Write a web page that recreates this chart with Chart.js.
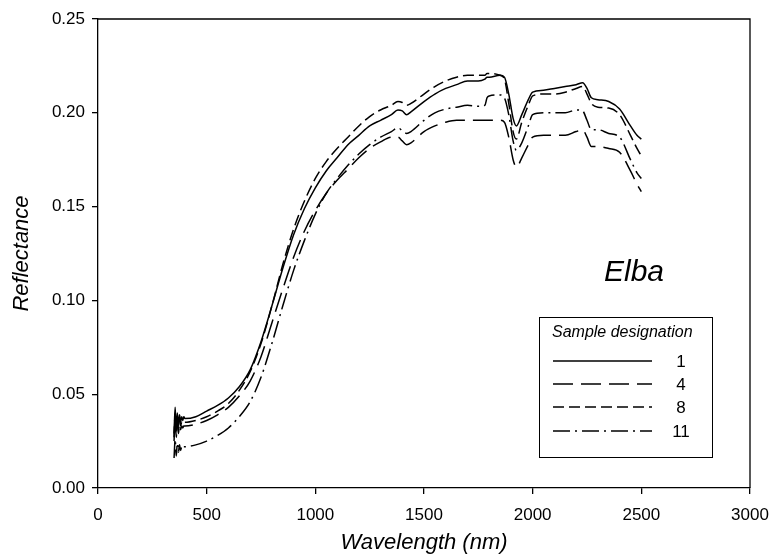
<!DOCTYPE html>
<html>
<head>
<meta charset="utf-8">
<script src="https://cdn.jsdelivr.net/npm/chart.js@4.4.1/dist/chart.umd.min.js"></script>
<style>
html,body{margin:0;padding:0;background:#fff;}
#wrap{width:781px;height:556px;}
</style>
</head>
<body>
<div id="wrap"><canvas id="c" width="781" height="556"></canvas></div>
<script>
const wavelengths = [350,355,360,365,370,375,380,385,390,395,400,450,500,550,600,650,700,750,800,850,900,950,1000,1050,1100,1150,1200,1250,1300,1350,1380,1400,1420,1440,1500,1550,1600,1650,1700,1750,1780,1790,1800,1850,1870,1890,1910,1925,1950,1980,2000,2050,2100,2150,2200,2230,2250,2270,2300,2350,2400,2450,2480,2500];

const sample1 = [0.029,0.043,0.031,0.040,0.033,0.039,0.035,0.038,0.036,0.038,0.037,
0.038,0.041,0.044,0.048,0.054,0.063,0.078,0.097,0.117,0.135,0.149,0.160,
0.169,0.176,0.183,0.188,0.193,0.196,0.199,
0.2015,0.201,0.199,0.2005,
0.206,0.210,0.213,0.215,0.217,0.217,
0.218,0.219,0.219,0.220,0.219,0.210,0.197,0.193,0.199,0.207,
0.211,0.212,0.213,0.214,0.215,0.216,0.213,0.208,0.207,0.206,0.202,0.193,0.188,0.186];

const sample4 = [0.025,0.038,0.027,0.035,0.029,0.034,0.031,0.033,0.032,0.033,0.033,
0.034,0.036,0.039,0.043,0.049,0.057,0.070,0.088,0.106,0.123,0.137,0.148,
0.157,0.164,0.170,0.176,0.181,0.1845,0.187,
0.187,0.185,0.183,0.184,
0.190,0.193,0.195,0.196,0.196,0.196,
0.196,0.196,0.196,0.196,0.195,0.187,0.175,0.171,0.176,0.183,
0.187,0.188,0.188,0.188,0.190,0.191,0.187,0.182,0.182,0.181,0.179,0.169,0.162,0.158];

const sample8 = [0.027,0.040,0.029,0.037,0.031,0.036,0.033,0.035,0.034,0.035,0.035,
0.036,0.038,0.041,0.045,0.052,0.062,0.077,0.097,0.119,0.138,0.153,0.165,
0.174,0.181,0.187,0.193,0.198,0.2015,0.204,
0.206,0.2055,0.204,0.205,
0.210,0.214,0.217,0.219,0.220,0.220,
0.220,0.221,0.221,0.220,0.218,0.205,0.190,0.186,0.195,0.204,
0.209,0.210,0.210,0.211,0.213,0.214,0.210,0.205,0.203,0.2025,0.199,0.188,0.181,0.177];

const sample11 = [0.016,0.026,0.017,0.024,0.019,0.023,0.020,0.022,0.021,0.022,0.022,
0.023,0.025,0.028,0.032,0.038,0.046,0.059,0.077,0.097,0.116,0.132,0.146,
0.157,0.165,0.172,0.178,0.183,0.187,0.190,
0.192,0.1905,0.189,0.190,
0.196,0.200,0.202,0.203,0.204,0.2035,
0.204,0.208,0.209,0.2095,0.208,0.199,0.185,0.180,0.184,0.193,
0.199,0.200,0.200,0.200,0.2015,0.201,0.196,0.191,0.191,0.189,0.187,0.175,0.168,0.165];

const seriesNames = ['1','4','8','11'];
const xTicks = [0,500,1000,1500,2000,2500,3000];
const yTicks = [0.00,0.05,0.10,0.15,0.20,0.25];

const FONT = '"Liberation Sans", Arial, sans-serif';
const dashes = {'1': [], '4': [20,8], '8': [11,5], '11': [17,5,2,5]};
const allSeries = {'1': sample1, '4': sample4, '8': sample8, '11': sample11};

const datasets = seriesNames.map(name => ({
  label: name,
  data: wavelengths.map((w,i) => ({x: w, y: allSeries[name][i]})),
  borderColor: '#000',
  borderWidth: 1.5,
  borderDash: dashes[name],
  pointRadius: 0,
  fill: false,
  cubicInterpolationMode: 'monotone'
}));

const framePlugin = {
  id: 'frame',
  afterDraw(chart) {
    const {ctx, chartArea: a} = chart;
    ctx.save();
    ctx.strokeStyle = '#000';
    ctx.lineWidth = 1.3;
    ctx.setLineDash([]);
    ctx.beginPath();
    ctx.moveTo(a.left, a.top);
    ctx.lineTo(a.right, a.top);
    ctx.lineTo(a.right, a.bottom);
    ctx.stroke();

    // "Elba" annotation
    ctx.fillStyle = '#000';
    ctx.font = 'italic 30px ' + FONT;
    ctx.textAlign = 'center';
    ctx.textBaseline = 'middle';
    ctx.fillText('Elba', 634, 273);

    // legend box
    const bx = 539, by = 317, bw = 173, bh = 140;
    ctx.lineWidth = 1;
    ctx.strokeRect(bx + 0.5, by + 0.5, bw, bh);
    ctx.font = 'italic 16px ' + FONT;
    ctx.textAlign = 'left';
    ctx.fillText('Sample designation', 552, 333);
    const rows = [361, 384, 407, 431];
    ctx.font = '17px ' + FONT;
    seriesNames.forEach((name, i) => {
      ctx.beginPath();
      ctx.setLineDash(dashes[name]);
      ctx.lineWidth = 1.5;
      ctx.moveTo(553, rows[i]);
      ctx.lineTo(652, rows[i]);
      ctx.stroke();
      ctx.setLineDash([]);
      ctx.textAlign = 'center';
      ctx.fillText(name, 681, rows[i] + 1);
    });
    ctx.restore();
  }
};

new Chart(document.getElementById('c'), {
  type: 'line',
  data: { datasets },
  options: {
    responsive: false,
    animation: false,
    layout: { padding: { left: 0, top: 19, right: 31, bottom: 0 } },
    plugins: { legend: { display: false }, tooltip: { enabled: false } },
    scales: {
      x: {
        type: 'linear',
        min: 0, max: 3000,
        afterBuildTicks: s => { s.ticks = xTicks.map(v => ({value: v})); },
        afterFit: s => { s.height = 68; },
        ticks: { color: '#000', font: { family: FONT, size: 17 }, padding: 11, maxRotation: 0,
                 callback: v => String(v) },
        grid: { display: true, drawOnChartArea: false, drawTicks: true, tickLength: 6, color: '#000', lineWidth: 1.3 },
        border: { display: true, color: '#000', width: 1.3 },
        title: { display: true, text: 'Wavelength (nm)', color: '#000',
                 font: { family: FONT, size: 22, style: 'italic' }, padding: { top: 0, bottom: 0 } }
      },
      y: {
        type: 'linear',
        min: 0, max: 0.25,
        afterBuildTicks: s => { s.ticks = yTicks.map(v => ({value: v})); },
        afterFit: s => { s.width = 98; },
        ticks: { color: '#000', font: { family: FONT, size: 17 }, padding: 7,
                 callback: v => Number(v).toFixed(2) },
        grid: { display: true, drawOnChartArea: false, drawTicks: true, tickLength: 6, color: '#000', lineWidth: 1.3 },
        border: { display: true, color: '#000', width: 1.3 },
        title: { display: true, text: 'Reflectance', color: '#000',
                 font: { family: FONT, size: 22, style: 'italic' }, padding: { top: 9, bottom: 0 } }
      }
    }
  },
  plugins: [framePlugin]
});
</script>
</body>
</html>
